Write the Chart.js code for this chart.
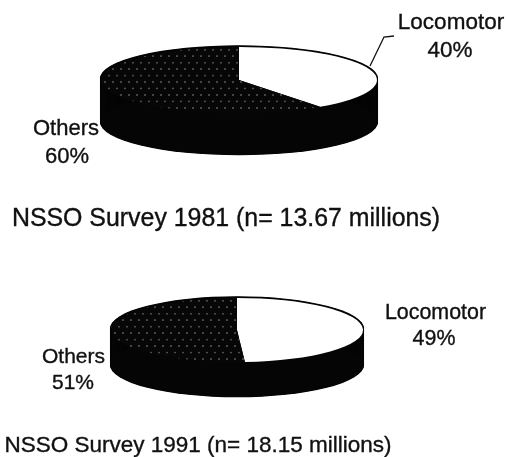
<!DOCTYPE html>
<html>
<head>
<meta charset="utf-8">
<style>
  html, body { margin: 0; padding: 0; background: #fff; }
  #page { position: relative; width: 506px; height: 457px; overflow: hidden; font-family: "Liberation Sans", sans-serif; color: #111; }
  canvas { position: absolute; filter: blur(0.6px); }
  .txt { position: absolute; white-space: nowrap; line-height: 1; transform: translate(-50%, -50%); filter: blur(0.4px); -webkit-text-stroke: 0.35px #111; }
  svg { position: absolute; left: 0; top: 0; filter: blur(0.3px); }
</style>
<script src="https://cdn.jsdelivr.net/npm/chart.js@4"></script>
</head>
<body>
<div id="page">
  <canvas id="pie-1981"></canvas>
  <canvas id="pie-1991"></canvas>
  <svg width="506" height="457"><polyline points="370,66 384,37 394,36" fill="none" stroke="#111" stroke-width="1.3"/></svg>
</div>
<script>
const categories = ['Locomotor', 'Others'];
const values1981 = [40, 60];
const values1991 = [49, 51];
const title1981 = 'NSSO Survey 1981 (n= 13.67 millions)';
const title1991 = 'NSSO Survey 1991 (n= 18.15 millions)';

const page = document.getElementById('page');

const addText = (text, x, y, size) => {
    const el = document.createElement('div');
    el.className = 'txt';
    el.textContent = text;
    el.style.left = x + 'px';
    el.style.top = y + 'px';
    el.style.fontSize = size + 'px';
    page.appendChild(el);
};

// dotted fill of the dark slice, stretched so dots stay round once squashed
const makeDots = (squash) => {
    const tile = document.createElement('canvas');
    tile.width = 8;
    tile.height = Math.round(13 / squash);
    const c = tile.getContext('2d');
    c.fillStyle = '#070707';
    c.fillRect(0, 0, tile.width, tile.height);
    c.fillStyle = '#4d4d4d';
    [[2, 0.25], [6, 0.75]].forEach(([x, y]) => {
        c.beginPath();
        c.ellipse(x, y * tile.height, 1, 1 / squash, 0, 0, Math.PI * 2);
        c.fill();
    });
    return c.createPattern(tile, 'repeat');
};

// squashes the pie into an ellipse and extrudes a black wall under it
const tiltPlugin = {
    id: 'tilt',
    beforeDatasetsDraw(chart, args, opts) {
        const ctx = chart.ctx;
        const arc = chart.getDatasetMeta(0).data[0];
        ctx.save();
        ctx.translate(arc.x, arc.y);
        ctx.scale(1, opts.squash);
        ctx.translate(-arc.x, -arc.y);
        ctx.fillStyle = '#050505';
        for (let d = -1.5; d <= opts.depth; d += 0.5) {
            ctx.beginPath();
            ctx.arc(arc.x, arc.y + d / opts.squash, arc.outerRadius + 1, 0, Math.PI * 2);
            ctx.fill();
        }
    },
    afterDatasetsDraw(chart) {
        chart.ctx.restore();
    }
};

const drawPie = (id, values, cx, cy, rx, ry, depth) => {
    const canvas = document.getElementById(id);
    const side = rx * 2 + 4;
    canvas.width = side;
    canvas.height = side;
    canvas.style.left = (cx - side / 2) + 'px';
    canvas.style.top = (cy - side / 2) + 'px';
    const squash = ry / rx;
    new Chart(canvas, {
        type: 'pie',
        data: {
            labels: categories,
            datasets: [{
                data: values,
                backgroundColor: ['#ffffff', makeDots(squash)],
                borderWidth: 0
            }]
        },
        options: {
            responsive: false,
            animation: false,
            events: [],
            layout: { padding: 2 },
            plugins: {
                legend: { display: false },
                tooltip: { enabled: false },
                tilt: { squash, depth }
            }
        },
        plugins: [tiltPlugin]
    });
};

drawPie('pie-1981', values1981, 239, 80, 138, 33, 42);
drawPie('pie-1991', values1991, 237, 330, 126, 32, 35);

addText(categories[0], 451, 22, 22.5);
addText(values1981[0] + '%', 450, 50, 22.5);
addText(categories[1], 66, 128, 22);
addText(values1981[1] + '%', 67, 156, 22);
addText(title1981, 226, 217, 24.9);

addText(categories[0], 435.5, 313, 21.4);
addText(values1991[0] + '%', 434, 339, 21.4);
addText(categories[1], 73.5, 355, 21);
addText(values1991[1] + '%', 73, 381, 21);
addText(title1991, 198, 445, 22.5);
</script>
</body>
</html>
